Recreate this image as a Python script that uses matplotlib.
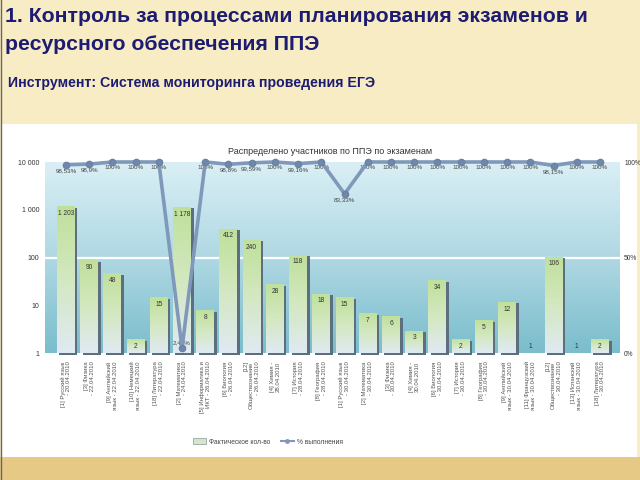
import numpy as np
import matplotlib
matplotlib.use("Agg")
import matplotlib.pyplot as plt
from matplotlib.patches import Rectangle, Patch
from matplotlib.lines import Line2D
from matplotlib.colors import LinearSegmentedColormap
import matplotlib.transforms as mtransforms

plt.rcParams['font.family'] = ['Liberation Sans', 'DejaVu Sans']

categories = [
    "[1] Русский язык\n- 20.04.2010",
    "[3] Физика\n- 22.04.2010",
    "[9] Английский\nязык - 22.04.2010",
    "[10] Немецкий\nязык - 22.04.2010",
    "[18] Литература\n- 22.04.2010",
    "[2] Математика\n- 24.04.2010",
    "[5] Информатика и\nИКТ - 26.04.2010",
    "[6] Биология\n- 26.04.2010",
    "[12]\nОбществознание\n- 26.04.2010",
    "[4] Химия -\n28.04.2010",
    "[7] История\n- 28.04.2010",
    "[8] География\n- 28.04.2010",
    "[1] Русский язык\n- 30.04.2010",
    "[2] Математика\n- 30.04.2010",
    "[3] Физика\n- 30.04.2010",
    "[4] Химия -\n30.04.2010",
    "[6] Биология\n- 30.04.2010",
    "[7] История\n- 30.04.2010",
    "[8] География\n- 30.04.2010",
    "[9] Английский\nязык - 30.04.2010",
    "[11] Французский\nязык - 30.04.2010",
    "[12]\nОбществознание\n- 30.04.2010",
    "[13] Испанский\nязык - 30.04.2010",
    "[18] Литература\n- 30.04.2010",
]
actual = [1203, 90, 48, 2, 15, 1178, 8, 412, 240, 28, 118, 18,
          15, 7, 6, 3, 34, 2, 5, 12, 1, 106, 1, 2]
percent = [98.53, 98.9, 100, 100, 100, 2.45, 100, 98.8, 99.59, 100, 99.16, 100,
           83.33, 100, 100, 100, 100, 100, 100, 100, 100, 98.15, 100, 100]
left_ticks = [1, 10, 100, 1000, 10000]
left_tick_labels = ["1", "10", "100", "1 000", "10 000"]
right_ticks = [0, 50, 100]
right_tick_labels = ["0%", "50%", "100%"]

W, H = 640, 480
fig = plt.figure(figsize=(6.4, 4.8), dpi=100)
fig.patch.set_facecolor('#f8ecc4')

# white chart box and bottom strip
fig.add_artist(Rectangle((2 / W, 1 - 457 / H), 635 / W, 333 / H, transform=fig.transFigure,
                         facecolor='white', edgecolor='none', zorder=0))
fig.add_artist(Rectangle((0, 0), 1, 23 / H, transform=fig.transFigure,
                         facecolor='#e6c984', edgecolor='none', zorder=0))
fig.add_artist(Line2D([0.5 / W, 0.5 / W], [0, 1], transform=fig.transFigure, color='#666', lw=1))

navy = '#1c1c72'
fig.text(5 / W, 1 - 17 / H, "1. Контроль за процессами планирования экзаменов и",
         fontsize=15.3, weight='bold', color=navy, va='center', ha='left')
fig.text(5 / W, 1 - 45 / H, "ресурсного обеспечения ППЭ",
         fontsize=15.3, weight='bold', color=navy, va='center', ha='left')
fig.text(8 / W, 1 - 83 / H, "Инструмент: Система мониторинга проведения ЕГЭ",
         fontsize=10.2, weight='bold', color=navy, va='center', ha='left')

ax = fig.add_axes([45 / W, 1 - 353 / H, 575 / W, 191 / H])
ax.set_facecolor('none')
ax.set_yscale('log')

x = np.arange(len(categories))
bw = 0.78

# background gradient
bg = LinearSegmentedColormap.from_list('bg', ['#7abdcc', '#afd8e3', '#daeff5'])
ax.imshow(np.linspace(0, 1, 256).reshape(-1, 1), cmap=bg, origin='lower',
          extent=(0, 1, 0, 1), transform=ax.transAxes, aspect='auto', zorder=0)
ax.axhline(100, color='white', lw=1.6, zorder=0.5)

# bar shadows
shadow_tr = mtransforms.offset_copy(ax.transData, fig=fig, x=2.5, y=-2, units='dots')
heights = np.array(actual, dtype=float) - 1
ax.bar(x, heights, bottom=1, width=bw, color='#5d6f7e', zorder=1.5,
       transform=shadow_tr, clip_on=False)

# bar gradients (uniform on the log display)
barcm = LinearSegmentedColormap.from_list('bar', ['#e0eaf2', '#d3e8c0', '#bfe09a'])
for xi, v in zip(x, actual):
    if v > 1:
        yy = np.linspace(1, v, 6000)
        g = (np.log(yy) / np.log(v)).reshape(-1, 1)
        ax.imshow(g, cmap=barcm, origin='lower', aspect='auto',
                  extent=(xi - bw / 2, xi + bw / 2, 1, v), zorder=2,
                  interpolation='nearest', vmin=0, vmax=1)
    label = f"{v:,}".replace(",", " ")
    if v > 1:
        ax.annotate(label, (xi, v), xytext=(0, -3), textcoords='offset points',
                    ha='center', va='top', fontsize=4.8, color='#333', zorder=5)
    else:
        ax.annotate(label, (xi, v), xytext=(0, 2), textcoords='offset points',
                    ha='center', va='bottom', fontsize=4.8, color='#333', zorder=5)

ax.set_xlim(-0.9, len(categories) - 1 + 0.86)
ax.set_ylim(1, 10000)
ax.set_yticks(left_ticks, left_tick_labels)
ax.yaxis.set_minor_locator(matplotlib.ticker.NullLocator())
ax.tick_params(axis='y', length=0, labelsize=5, pad=4, labelcolor='#333')
ax.set_xticks(x, categories, rotation=90, fontsize=4.3, ha='center', va='top',
              multialignment='right', color='#555')
ax.tick_params(axis='x', length=0, pad=6)
for s in ax.spines.values():
    s.set_visible(False)

ax2 = ax.twinx()
ax2.set_ylim(0, 100)
line_c = '#8099ba'
ax2.plot(x, percent, color=line_c, lw=2.6, marker='o', ms=4.5,
         mfc='#7088aa', mec='#6a82a4', clip_on=False, zorder=4)
for xi, p in zip(x, percent):
    txt = f"{p:g}".replace(".", ",") + "%"
    if p < 10:
        ax2.annotate(txt, (xi, p), xytext=(0, 2), textcoords='offset points',
                     ha='center', va='bottom', fontsize=4.5, color='#444',
                     annotation_clip=False)
    else:
        ax2.annotate(txt, (xi, p), xytext=(0, -2.5), textcoords='offset points',
                     ha='center', va='top', fontsize=4.5, color='#444',
                     annotation_clip=False)
ax2.set_yticks(right_ticks, right_tick_labels)
ax2.tick_params(axis='y', length=0, labelsize=4.8, pad=3, labelcolor='#333')
for s in ax2.spines.values():
    s.set_visible(False)

fig.text(330 / W, 1 - 151 / H, "Распределено участников по ППЭ по экзаменам",
         fontsize=6.5, ha='center', va='center', color='#333')

handles = [Patch(facecolor='#d3e6cc', edgecolor='#99a5a5', lw=0.6),
           Line2D([], [], color=line_c, marker='o', ms=2.5, lw=1.5)]
fig.legend(handles, ["Фактическое кол-во", "% выполнения"], loc='center',
           bbox_to_anchor=(268 / W, 1 - 442 / H), ncol=2, frameon=False,
           fontsize=4.8, handlelength=2.0, handleheight=1.0, columnspacing=1.5,
           handletextpad=0.5, labelcolor='#444')

fig.savefig("out.png", dpi=100, facecolor=fig.get_facecolor())
